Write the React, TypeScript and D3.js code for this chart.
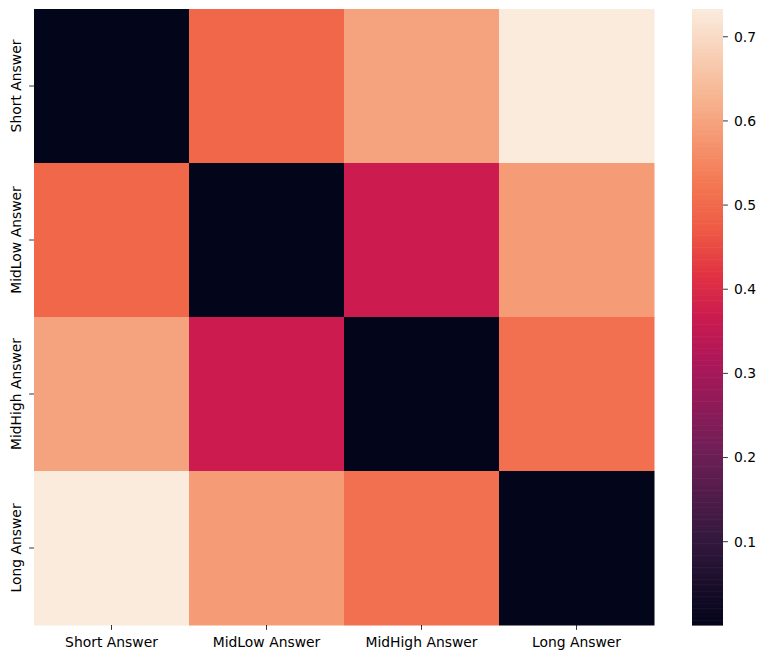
import React from "react";
import * as d3 from "d3";

const categories = ["Short Answer", "MidLow Answer", "MidHigh Answer", "Long Answer"];
const rowShort = [0.001, 0.495, 0.6, 0.733];
const rowMidLow = [0.495, 0.001, 0.367, 0.588];
const rowMidHigh = [0.6, 0.367, 0.001, 0.513];
const rowLong = [0.733, 0.588, 0.513, 0.001];
const matrix = [rowShort, rowMidLow, rowMidHigh, rowLong];
const cbTicks = [0.1, 0.2, 0.3, 0.4, 0.5, 0.6, 0.7];

const rocketPos = [0, 0.143, 0.286, 0.429, 0.5, 0.571, 0.643, 0.714, 0.857, 1];
const rocketCols = ["#03051a", "#35193e", "#701f57", "#ad1759", "#cb1b4f", "#e13342", "#ee5a45", "#f37651", "#f6b48f", "#faebdd"];
const rocket = d3.scaleLinear<string>().domain(rocketPos).range(rocketCols).interpolate(d3.interpolateRgb).clamp(true);

const W = 764, H = 659;
const left = 34, right = 654, top = 9, bottom = 625;
const cbL = 692, cbR = 723;
const FONT = "DejaVu Sans, sans-serif";
const FS = 13.9;

export default function App() {
  const all = matrix.flat();
  const vmin = d3.min(all) as number;
  const vmax = d3.max(all) as number;
  const x = d3.scaleBand<string>().domain(categories).range([left, right]);
  const y = d3.scaleBand<string>().domain(categories).range([top, bottom]);
  const color = d3.scaleSequential((t: number) => rocket(t)).domain([vmin, vmax]);
  const cy = d3.scaleLinear().domain([vmin, vmax]).range([bottom, top]);
  const nSteps = 256;
  const steps = d3.range(nSteps).map((i) => vmin + ((vmax - vmin) * i) / nSteps);
  const stepH = (bottom - top) / nSteps;

  return (
    <svg width={W} height={H} style={{ position: "absolute", left: 0, top: 0, background: "#fff" }} fontFamily={FONT}>
      {matrix.map((row, i) =>
        row.map((v, j) => (
          <rect key={`${i}-${j}`} x={x(categories[j])} y={y(categories[i])} width={x.bandwidth() + 0.5} height={y.bandwidth() + 0.5} fill={color(v)} />
        ))
      )}
      {categories.map((c) => {
        const cx = (x(c) as number) + x.bandwidth() / 2;
        return (
          <g key={"x" + c}>
            <line x1={cx} x2={cx} y1={bottom} y2={bottom + 4.9} stroke="#000" strokeWidth={0.8} />
            <text x={cx} y={bottom + 22} textAnchor="middle" fontSize={FS} fill="#000">{c}</text>
          </g>
        );
      })}
      {categories.map((c) => {
        const yy = (y(c) as number) + y.bandwidth() / 2;
        return (
          <g key={"y" + c}>
            <line x1={left - 4.9} x2={left} y1={yy} y2={yy} stroke="#000" strokeWidth={0.8} />
            <text transform={`translate(${left - 13},${yy}) rotate(-90)`} textAnchor="middle" fontSize={FS} fill="#000">{c}</text>
          </g>
        );
      })}
      {steps.map((v, i) => (
        <rect key={"cb" + i} x={cbL} width={cbR - cbL} y={bottom - (i + 1) * stepH} height={stepH + 0.6} fill={color(v + (vmax - vmin) / nSteps / 2)} />
      ))}
      {cbTicks.map((t) => (
        <g key={"t" + t}>
          <line x1={cbR} x2={cbR + 4.9} y1={cy(t)} y2={cy(t)} stroke="#000" strokeWidth={0.8} />
          <text x={cbR + 11} y={cy(t)} dy="0.35em" fontSize={FS} fill="#000">{t.toFixed(1)}</text>
        </g>
      ))}
    </svg>
  );
}
